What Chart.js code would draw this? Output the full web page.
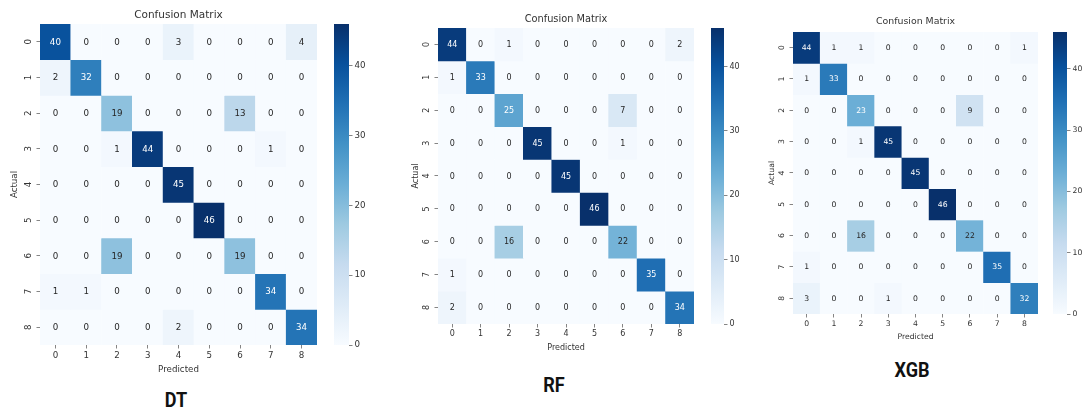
<!DOCTYPE html>
<html>
<head>
<meta charset="utf-8">
<title>Confusion matrices — DT / RF / XGB</title>
<script src="https://cdn.jsdelivr.net/npm/chart.js@4.4.1/dist/chart.umd.min.js"></script>
<style>
  html, body { margin: 0; padding: 0; background: #fff; }
  #page { position: relative; width: 1085px; height: 414px; overflow: hidden; }
  #page canvas { position: absolute; }
  .model { position: absolute; transform: translate(-50%, -50%) scaleX(0.86); font: bold 21px Roboto, "Noto Sans", sans-serif; color: #111; }
</style>
</head>
<body>
<div id="page"></div>
<script>
/* Confusion matrices, rows = actual class, columns = predicted class */
const classLabels = ["0","1","2","3","4","5","6","7","8"];
const modelNames = ["DT", "RF", "XGB"];
const colorbarTicks = [0, 10, 20, 30, 40];

const dtMatrix = [
  [40, 0, 0, 0, 3, 0, 0, 0, 4],
  [ 2,32, 0, 0, 0, 0, 0, 0, 0],
  [ 0, 0,19, 0, 0, 0,13, 0, 0],
  [ 0, 0, 1,44, 0, 0, 0, 1, 0],
  [ 0, 0, 0, 0,45, 0, 0, 0, 0],
  [ 0, 0, 0, 0, 0,46, 0, 0, 0],
  [ 0, 0,19, 0, 0, 0,19, 0, 0],
  [ 1, 1, 0, 0, 0, 0, 0,34, 0],
  [ 0, 0, 0, 0, 2, 0, 0, 0,34],
];
const rfMatrix = [
  [44, 0, 1, 0, 0, 0, 0, 0, 2],
  [ 1,33, 0, 0, 0, 0, 0, 0, 0],
  [ 0, 0,25, 0, 0, 0, 7, 0, 0],
  [ 0, 0, 0,45, 0, 0, 1, 0, 0],
  [ 0, 0, 0, 0,45, 0, 0, 0, 0],
  [ 0, 0, 0, 0, 0,46, 0, 0, 0],
  [ 0, 0,16, 0, 0, 0,22, 0, 0],
  [ 1, 0, 0, 0, 0, 0, 0,35, 0],
  [ 2, 0, 0, 0, 0, 0, 0, 0,34],
];
const xgbMatrix = [
  [44, 1, 1, 0, 0, 0, 0, 0, 1],
  [ 1,33, 0, 0, 0, 0, 0, 0, 0],
  [ 0, 0,23, 0, 0, 0, 9, 0, 0],
  [ 0, 0, 1,45, 0, 0, 0, 0, 0],
  [ 0, 0, 0, 0,45, 0, 0, 0, 0],
  [ 0, 0, 0, 0, 0,46, 0, 0, 0],
  [ 0, 0,16, 0, 0, 0,22, 0, 0],
  [ 1, 0, 0, 0, 0, 0, 0,35, 0],
  [ 3, 0, 0, 1, 0, 0, 0, 0,32],
];

(function () {
  "use strict";
  const page = document.getElementById("page");
  const FONT = '"DejaVu Sans", sans-serif';
  const INK = "#333";

  /* matplotlib "Blues" stops */
  const BLUES = ["#f7fbff","#deebf7","#c6dbef","#9ecae1","#6baed6","#4292c6","#2171b5","#08519c","#08306b"]
    .map((h) => [1,3,5].map((i) => parseInt(h.substr(i,2),16)));
  function blues(t) {
    t = Math.max(0, Math.min(1, t)) * (BLUES.length - 1);
    const i = Math.min(Math.floor(t), BLUES.length - 2), f = t - i;
    return BLUES[i].map((c, k) => Math.round(c + (BLUES[i+1][k] - c) * f));
  }
  const rgb = (c) => `rgb(${c[0]},${c[1]},${c[2]})`;
  // seaborn's rule: dark text on light cells, white on dark
  function textColor(c) {
    const lin = c.map((v) => { v /= 255; return v <= 0.03928 ? v / 12.92 : Math.pow((v + 0.055) / 1.055, 2.4); });
    const lum = 0.2126*lin[0] + 0.7152*lin[1] + 0.0722*lin[2];
    return lum > 0.408 ? "#262626" : "#fff";
  }

  function canvasAt(x, y, w, h) {
    const c = document.createElement("canvas");
    c.width = w; c.height = h;
    c.style.left = x + "px"; c.style.top = y + "px";
    c.style.width = w + "px"; c.style.height = h + "px";
    page.appendChild(c);
    return c;
  }

  const annotate = {
    id: "annotate",
    afterDatasetsDraw(chart, args, opts) {
      const ctx = chart.ctx;
      ctx.save();
      ctx.font = `${opts.size}px ${FONT}`;
      ctx.textAlign = "center"; ctx.textBaseline = "middle";
      chart.data.datasets.forEach((ds, r) => {
        chart.getDatasetMeta(r).data.forEach((bar, c) => {
          const p = bar.getCenterPoint();
          ctx.fillStyle = textColor(ds.cellColors[c]);
          ctx.fillText(String(ds.values[c]), p.x, p.y + 0.5);
        });
      });
      ctx.restore();
    },
  };

  /* layout per panel: canvas boxes in page pixels */
  const panels = [
    { matrix: dtMatrix,  heat: [0, 0, 320, 375],   yW: 30, xH: 30, title: [10.5, 8.7, 2.7], font: 8.7, tickPadX: 2.5,
      cbar: [334, 14, 45, 342], cbW: 15, name: [176, 400] },
    { matrix: rfMatrix,  heat: [401, 0, 296, 353], yW: 27, xH: 29, title: [9.8, 13.1, 3.1], font: 8,   tickPadX: 2,
      cbar: [711, 18, 43, 317], cbW: 13, name: [554, 385] },
    { matrix: xgbMatrix, heat: [757, 0, 284, 342], yW: 26, xH: 28, title: [9.4, 16.4, 4.3], font: 7.7, tickPadX: 2,
      cbar: [1053, 22, 44, 303], cbW: 14, name: [912, 370] },
  ];

  panels.forEach((P, pi) => {
    const vmax = Math.max(...P.matrix.flat());
    const tickFont = { family: FONT, size: P.font };

    const datasets = P.matrix.map((row, r) => {
      const cols = row.map((v) => blues(v / vmax));
      return {
        label: "Actual " + classLabels[r],
        data: classLabels.map(() => [r, r + 1]),
        values: row,
        cellColors: cols,
        backgroundColor: cols.map(rgb),
        grouped: false, barPercentage: 1, categoryPercentage: 1, borderWidth: 0,
      };
    });

    new Chart(canvasAt(...P.heat), {
      type: "bar",
      data: { labels: classLabels, datasets },
      plugins: [annotate],
      options: {
        responsive: false, animation: false, devicePixelRatio: 1,
        layout: { padding: { left: 10, right: 3, top: 0, bottom: 0 } },
        plugins: {
          legend: { display: false }, tooltip: { enabled: false },
          title: { display: true, text: "Confusion Matrix", fullSize: false, color: INK,
                   font: { family: FONT, size: P.title[0], weight: "normal" },
                   padding: { top: P.title[1], bottom: P.title[2] } },
          annotate: { size: P.font },
        },
        scales: {
          x: {
            type: "category",
            afterFit: (s) => { s.height = P.xH; },
            grid: { display: true, offset: false, drawOnChartArea: false, tickLength: 3.5, color: "#666", lineWidth: 0.8 },
            border: { display: false },
            ticks: { color: INK, font: tickFont, padding: P.tickPadX, maxRotation: 0 },
            title: { display: true, text: "Predicted", color: INK, font: tickFont, padding: 0 },
          },
          y: {
            type: "linear", min: 0, max: classLabels.length, reverse: true,
            afterBuildTicks: (s) => { s.ticks = classLabels.map((c, i) => ({ value: i + 0.5 })); },
            afterCalculateLabelRotation: (s) => { s.labelRotation = 90; },
            afterFit: (s) => { s.width = P.yW; },
            grid: { display: true, drawOnChartArea: false, tickLength: 3.5, color: "#666", lineWidth: 0.8 },
            border: { display: false },
            ticks: { color: INK, font: tickFont, padding: 5, autoSkip: false, minRotation: 90, maxRotation: 90,
                     crossAlign: "center", callback: (v) => classLabels[Math.floor(v)] },
            title: { display: true, text: "Actual", color: INK, font: tickFont, padding: 0 },
          },
        },
      },
    });

    /* colour bar */
    new Chart(canvasAt(...P.cbar), {
      type: "bar",
      data: { labels: [""], datasets: [{
        data: [vmax], barPercentage: 1, categoryPercentage: 1, borderWidth: 0,
        backgroundColor: (ctx) => {
          const a = ctx.chart.chartArea;
          if (!a) return rgb(BLUES[0]);
          const g = ctx.chart.ctx.createLinearGradient(0, a.bottom, 0, a.top);
          BLUES.forEach((c, i) => g.addColorStop(i / (BLUES.length - 1), rgb(c)));
          return g;
        },
      }] },
      options: {
        responsive: false, animation: false, devicePixelRatio: 1,
        layout: { padding: { top: 10, bottom: 11, left: 0, right: 0 } },
        plugins: { legend: { display: false }, tooltip: { enabled: false } },
        scales: {
          x: { display: false },
          y: {
            position: "right", min: 0, max: vmax,
            afterBuildTicks: (s) => { s.ticks = colorbarTicks.map((v) => ({ value: v })); },
            afterFit: (s) => { s.width = P.cbar[2] - P.cbW; },
            grid: { display: true, drawOnChartArea: false, tickLength: 3.5, color: "#666", lineWidth: 0.8 },
            border: { display: false },
            ticks: { color: INK, font: tickFont, padding: 2 },
          },
        },
      },
    });

    const lbl = document.createElement("div");
    lbl.className = "model";
    lbl.textContent = modelNames[pi];
    lbl.style.left = P.name[0] + "px"; lbl.style.top = P.name[1] + "px";
    page.appendChild(lbl);
  });
})();
</script>
</body>
</html>
